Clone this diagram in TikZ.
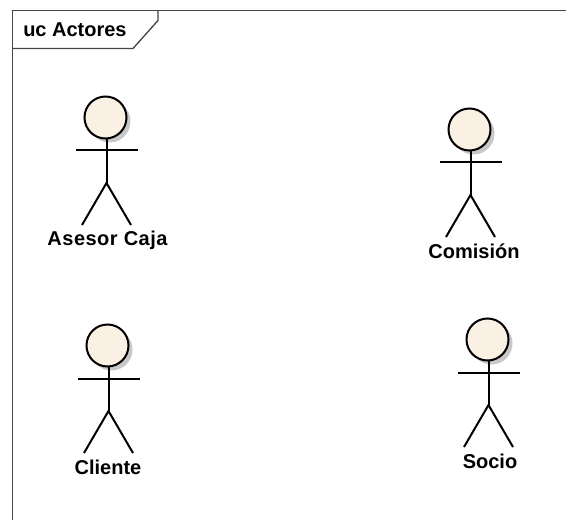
\documentclass[tikz,border=0pt]{standalone}
\usepackage{fontspec}
\setmainfont{Liberation Sans}
\usetikzlibrary{positioning, calc}
\definecolor{headfill}{RGB}{250,241,228}
\definecolor{headshadow}{RGB}{200,200,200}
\definecolor{framecol}{RGB}{70,70,70}
\tikzset{
    framesty/.style={draw=framecol,line width=1pt},
    limbsty/.style={draw=black,line width=1.5pt},
    headsty/.style={draw=black,fill=headfill,line width=1.5pt},
    shadowsty/.style={fill=headshadow},
    labelsty/.style={font=\bfseries\fontsize{15}{17}\selectfont,inner sep=0pt,text=black},
}
\begin{document}
\begin{tikzpicture}[x=0.75pt,y=-0.75pt]
            \useasboundingbox (0,0) rectangle (566,520);
            \draw[framesty] (566,10.5)--(12.5,10.5)--(12.5,520);
            \draw[framesty] (158,10.5)--(158,20.5)--(133,48.5)--(12.5,48.5);
            \node[labelsty,anchor=west] (title) at (23,30) {uc Actores};
            \begin{scope}[shift={(105.5,117.5)}]
                \fill[shadowsty] (4,4) circle (21);
                \draw[limbsty] (1,21)--(1,65.5);
                \draw[limbsty] (-30,33)--(32,33);
                \draw[limbsty] (-23.5,107.5)--(1,65.5)--(25.5,107.5);
                \draw[headsty] (0,0) circle (21);
                \node[labelsty] (asesor) at (2,123) {\addfontfeature{LetterSpace=2.5}Asesor Caja};
            \end{scope}
            \begin{scope}[shift={(469.5,129.5)}]
                \fill[shadowsty] (4,4) circle (21);
                \draw[limbsty] (1,21)--(1,65.5);
                \draw[limbsty] (-30,33)--(32,33);
                \draw[limbsty] (-23.5,107.5)--(1,65.5)--(25.5,107.5);
                \draw[headsty] (0,0) circle (21);
                \node[labelsty] (comision) at (4.5,121.5) {Comisión};
            \end{scope}
            \begin{scope}[shift={(107.5,345.5)}]
                \fill[shadowsty] (4,4) circle (21);
                \draw[limbsty] (1,21)--(1,65.5);
                \draw[limbsty] (-30,33)--(32,33);
                \draw[limbsty] (-23.5,107.5)--(1,65.5)--(25.5,107.5);
                \draw[headsty] (0,0) circle (21);
                \node[labelsty] (cliente) at (0.5,121.5) {Cliente};
            \end{scope}
            \begin{scope}[shift={(487.5,339.5)}]
                \fill[shadowsty] (4,4) circle (21);
                \draw[limbsty] (1,21)--(1,65.5);
                \draw[limbsty] (-30,33)--(32,33);
                \draw[limbsty] (-23.5,107.5)--(1,65.5)--(25.5,107.5);
                \draw[headsty] (0,0) circle (21);
                \node[labelsty] (socio) at (2.5,121.5) {Socio};
            \end{scope}
        \end{tikzpicture}
\end{document}
